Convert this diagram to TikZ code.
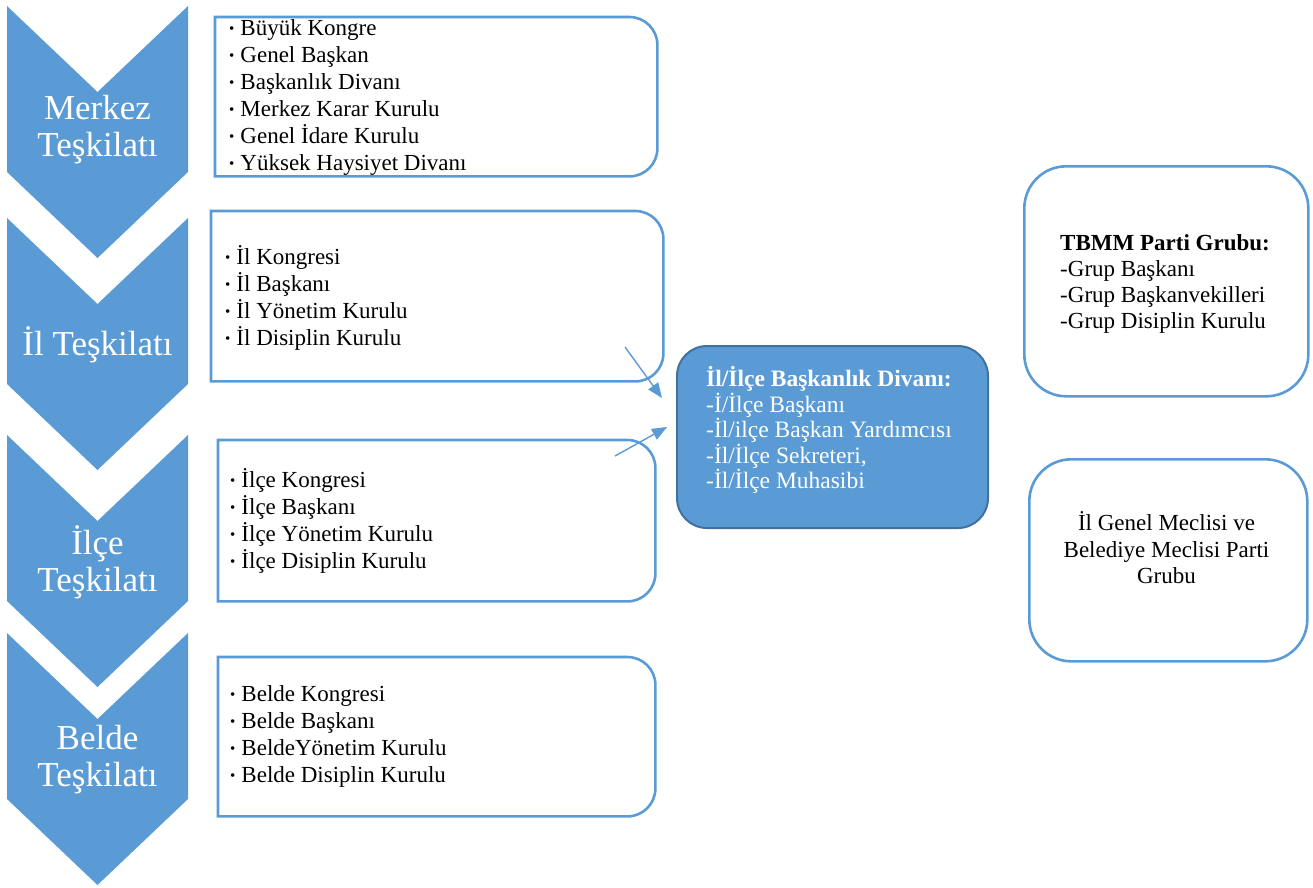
\documentclass[tikz,border=0pt]{standalone}
\usepackage{fontspec}
\setmainfont{Liberation Serif}
\usetikzlibrary{calc,arrows.meta}
\definecolor{ofblue}{HTML}{5B9BD5}
\definecolor{ofdark}{HTML}{41719C}
\newcommand\bul{\raisebox{2pt}{\fontsize{15}{15}\selectfont •}\hspace{6pt}}
\newcommand\rightroundframe[2]{%
  \draw[boxline] (#1.north west) -- ($(#1.north east)+(-#2,0)$)
    .. controls ($(#1.north east)+(-0.448*#2,0)$) and ($(#1.north east)+(0,0.448*#2)$) .. ($(#1.north east)+(0,#2)$)
    -- ($(#1.south east)+(0,-#2)$)
    .. controls ($(#1.south east)+(0,-0.448*#2)$) and ($(#1.south east)+(-0.448*#2,0)$) .. ($(#1.south east)+(-#2,0)$)
    -- (#1.south west) -- cycle;}
\tikzset{
  chev/.style={fill=ofblue, draw=none},
  chevtext/.style={text=white, font=\fontsize{35}{37}\selectfont, align=center, inner sep=0},
  frame/.style={draw=none, inner sep=0, anchor=north west},
  boxline/.style={draw=ofblue, line width=2.6pt},
  listtext/.style={font=\fontsize{23}{27}\selectfont, align=left, anchor=west, inner sep=0},
  sidebox/.style={draw=ofblue, line width=2.6pt, inner sep=0, anchor=north west},
  arr/.style={draw=ofblue, line width=1.4pt, -{Triangle[length=15pt,width=12pt]}},
}
\begin{document}
\begin{tikzpicture}[x=1pt,y=-1pt]
\useasboundingbox (0,0) rectangle (1313,887);
% chevrons
\foreach \y in {6,218,435,633}{
  \fill[chev] (7,\y) -- (97.5,\y+86) -- (188,\y) -- (188,\y+166) -- (97.5,\y+252) -- (7,\y+166) -- cycle;
}
\node[chevtext] (c1) at (97.5,129.5) {Merkez\\Teşkilatı};
\node[chevtext] (c2) at (97.5,345) {İl Teşkilatı};
\node[chevtext] (c3) at (97.5,562.5) {İlçe\\Teşkilatı};
\node[chevtext] (c4) at (97.5,759.5) {Belde\\Teşkilatı};
% list boxes
\node[frame, minimum width=442, minimum height=159] (b1) at (215,17) {};
\node[frame, minimum width=452, minimum height=170] (b2) at (211,211) {};
\node[frame, minimum width=437, minimum height=161] (b3) at (218,440) {};
\node[frame, minimum width=437, minimum height=159] (b4) at (218,657) {};
\rightroundframe{b1}{28}
\rightroundframe{b2}{28}
\rightroundframe{b3}{28}
\rightroundframe{b4}{28}
\node[listtext] (t1) at (229,97.5) {\bul Büyük Kongre\\\bul Genel Başkan\\\bul Başkanlık Divanı\\\bul Merkez Karar Kurulu\\\bul Genel İdare Kurulu\\\bul Yüksek Haysiyet Divanı};
\node[listtext] (t2) at (225,297.5) {\bul İl Kongresi\\\bul İl Başkanı\\\bul İl Yönetim Kurulu\\\bul İl Disiplin Kurulu};
\node[listtext] (t3) at (230,520.5) {\bul İlçe Kongresi\\\bul İlçe Başkanı\\\bul İlçe Yönetim Kurulu\\\bul İlçe Disiplin Kurulu};
\node[listtext] (t4) at (230,736) {\bul Belde Kongresi\\\bul Belde Başkanı\\\bul BeldeYönetim Kurulu\\\bul Belde Disiplin Kurulu};
% central box
\node[fill=ofblue, draw=ofdark, line width=2pt, rounded corners=30pt, minimum width=311, minimum height=182, inner sep=0, anchor=north west] (div) at (676,345) {};
\node[font=\fontsize{23.5}{25.5}\selectfont, text=white, align=left, anchor=west, inner sep=0] (divt) at (706,430) {\textbf{İl/İlçe Başkanlık Divanı:}\\-İ/İlçe Başkanı\\-İl/ilçe Başkan Yardımcısı\\-İl/İlçe Sekreteri,\\-İl/İlçe Muhasibi};
% right boxes
\node[sidebox, rounded corners=42pt, minimum width=284, minimum height=230] (tb) at (1023,165) {};
\node[font=\fontsize{23}{26}\selectfont, align=left, inner sep=0] (tbt) at (1165,284) {\textbf{TBMM Parti Grubu:}\\-Grup Başkanı\\-Grup Başkanvekilleri\\-Grup Disiplin Kurulu};
\node[sidebox, rounded corners=42pt, minimum width=278, minimum height=202] (ig) at (1028,458) {};
\node[font=\fontsize{23}{26.5}\selectfont, align=center, inner sep=0] (igt) at (1166.5,548) {İl Genel Meclisi ve\\Belediye Meclisi Parti\\Grubu};
% arrows
\coordinate (a1s) at (625,347);
\coordinate (a1e) at (662,398);
\coordinate (a2s) at (615,456);
\coordinate (a2e) at (667,427);
\draw[arr] (a1s) -- (a1e);
\draw[arr] (a2s) -- (a2e);
\end{tikzpicture}
\end{document}
